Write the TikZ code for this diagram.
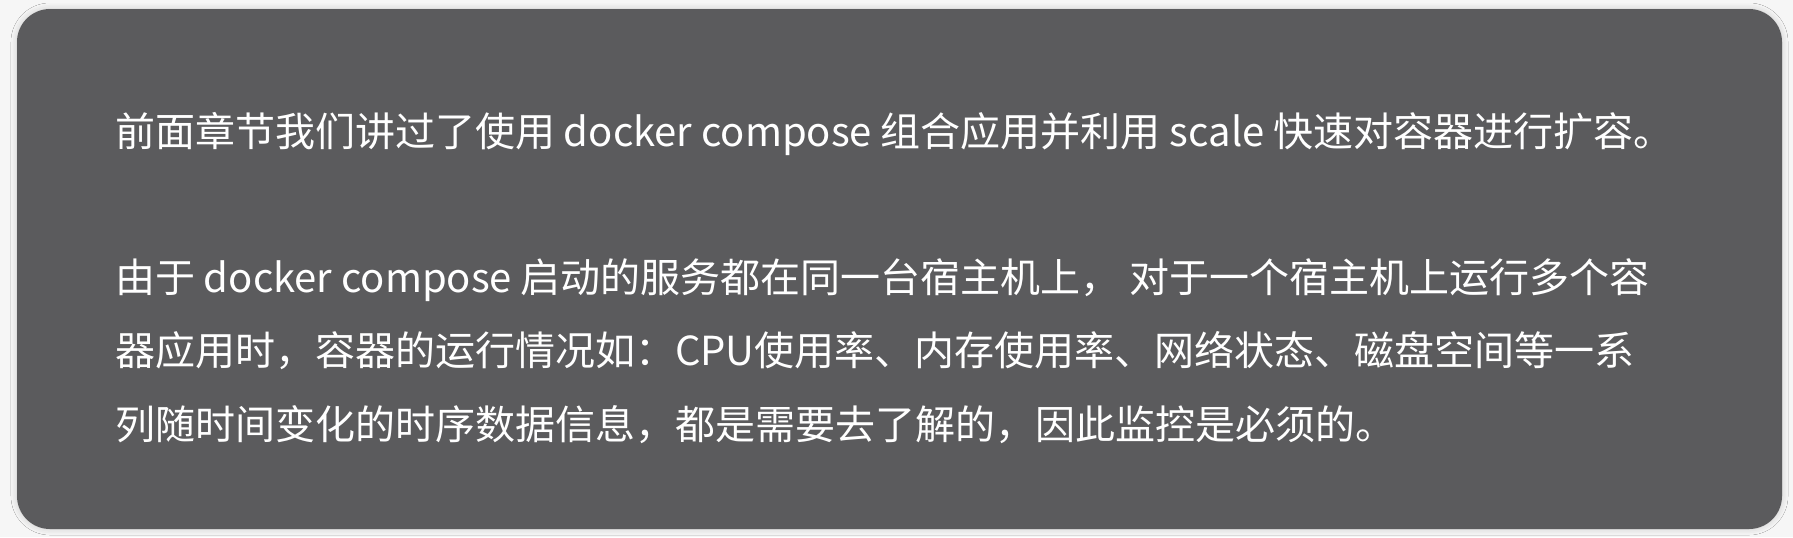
\documentclass[tikz,border=0pt]{standalone}
\usepackage{fontspec}
\setmainfont{Noto Sans CJK SC}
\usetikzlibrary{shadows.blur}
\XeTeXlinebreaklocale "zh"
\XeTeXlinebreakskip=0pt plus 1pt
\definecolor{cardgray}{HTML}{5B5B5D}
\definecolor{pagegray}{HTML}{F6F6F6}
\tikzset{
    every node/.style={inner sep=0pt, outer sep=0pt, text=white, font=\fontsize{20pt}{36.5pt}\selectfont},
    textline/.style={anchor=base west},
    fullline/.style={anchor=base west, text width=773.5pt, align=justify}
}

\begin{document}
\begin{tikzpicture}[x=0.5pt, y=-0.5pt]
    \useasboundingbox (0,0) rectangle (1793,537);
    \fill[pagegray] (0,0) rectangle (1793,537);
    \fill[cardgray, rounded corners=16.5pt,
        blur shadow={shadow xshift=0pt, shadow yshift=0pt, shadow blur radius=3pt, shadow opacity=18}]
        (17,9) rectangle (1782,529);

    \node (l1) [textline] at (115,146) {前面章节我们讲过了使用 docker compose 组合应用并利用 scale 快速对容器进行扩容。};
    \node (l2) [fullline] at (115,292) {\parfillskip=0pt 由于 docker compose 启动的服务都在同一台宿主机上， 对于一个宿主机上运行多个容};
    \node (l3) [fullline] at (115,365) {\parfillskip=0pt 器应用时，容器的运行情况如：CPU使用率、内存使用率、网络状态、磁盘空间等一系};
    \node (l4) [textline] at (115,439) {列随时间变化的时序数据信息，都是需要去了解的，因此监控是必须的。};
\end{tikzpicture}
\end{document}
